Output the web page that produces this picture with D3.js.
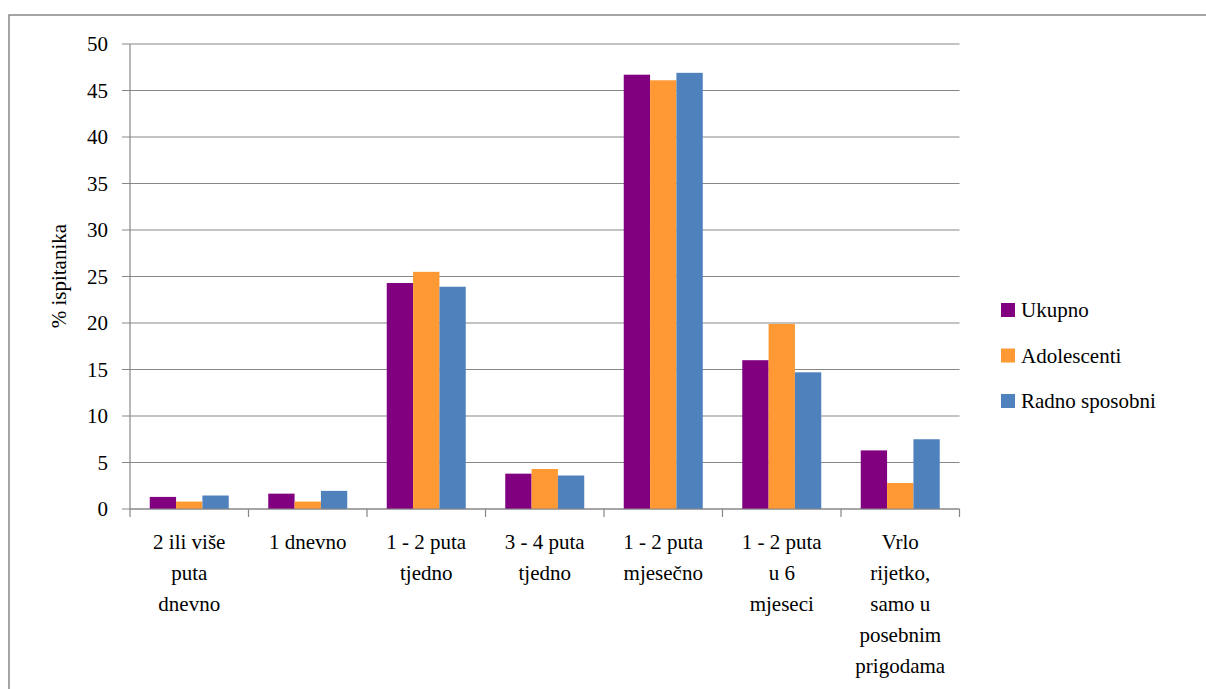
<!DOCTYPE html>
<html lang="hr"><head><meta charset="utf-8">
<script src="https://cdn.jsdelivr.net/npm/d3@7"></script>
</head><body style="margin:0">
<div id="wrap" style="position:relative;width:1206px;height:689px;overflow:hidden;font-family:'Liberation Serif','Times New Roman',serif;font-size:21px;color:#000;">
<svg id="c" width="1206" height="689" style="position:absolute;left:0;top:0"></svg>
</div>
<script>
const categories = [
  ["2 ili više","puta","dnevno"],
  ["1 dnevno"],
  ["1 - 2 puta","tjedno"],
  ["3 - 4 puta","tjedno"],
  ["1 - 2 puta","mjesečno"],
  ["1 - 2 puta","u 6","mjeseci"],
  ["Vrlo","rijetko,","samo u","posebnim","prigodama"]
];
const seriesNames = ["Ukupno","Adolescenti","Radno sposobni"];
const ukupno = [1.3, 1.65, 24.3, 3.8, 46.7, 16.0, 6.3];
const adolescenti = [0.8, 0.8, 25.5, 4.3, 46.1, 19.9, 2.8];
const radnoSposobni = [1.45, 1.95, 23.9, 3.6, 46.9, 14.7, 7.5];
const yTicks = [0,5,10,15,20,25,30,35,40,45,50];
const yTitle = "% ispitanika";
const colors = ["#800080","#FF9933","#4F81BD"];

const series = [ukupno, adolescenti, radnoSposobni];
const wrap = d3.select("#wrap");
const svg = d3.select("#c");

// outer border
svg.append("rect").attr("x",9).attr("y",15).attr("width",1300).attr("height",800)
  .attr("fill","none").attr("stroke","#878787").attr("stroke-width",1.5);

const L=130, R=959.5, T=44, B=509;
const idx = d3.range(categories.length);
const x = d3.scaleBand().domain(idx).range([L,R]).paddingInner(0).paddingOuter(0);
const y = d3.scaleLinear().domain([0,50]).range([B,T]);
const inner = d3.scaleBand().domain(d3.range(series.length)).range([0,x.bandwidth()]).paddingOuter(0.75).paddingInner(0);

// gridlines
svg.append("g").selectAll("line").data(yTicks).join("line")
  .attr("x1",L-8).attr("x2",R).attr("y1",d=>y(d)).attr("y2",d=>y(d))
  .attr("stroke","#878787").attr("stroke-width",1.2);

// y axis line
svg.append("line").attr("x1",L).attr("x2",L).attr("y1",T).attr("y2",B)
  .attr("stroke","#878787").attr("stroke-width",1.2);

// bars
series.forEach((s,si)=>{
  svg.append("g").selectAll("rect").data(s).join("rect")
    .attr("x",(d,i)=>x(i)+inner(si)).attr("width",inner.bandwidth())
    .attr("y",d=>y(d)).attr("height",d=>B-y(d)).attr("fill",colors[si]);
});

// x axis
svg.append("line").attr("x1",L).attr("x2",R).attr("y1",B).attr("y2",B)
  .attr("stroke","#878787").attr("stroke-width",1.2);
const xt = idx.map(i=>x(i)).concat([R]);
svg.append("g").selectAll("line").data(xt).join("line")
  .attr("x1",d=>d).attr("x2",d=>d).attr("y1",B).attr("y2",B+8)
  .attr("stroke","#878787").attr("stroke-width",1.2);

// legend swatches
svg.append("g").selectAll("rect").data(seriesNames).join("rect")
  .attr("x",1001).attr("y",(d,i)=>303+i*45.5).attr("width",14).attr("height",14)
  .attr("fill",(d,i)=>colors[i]);

// ---- text as positioned HTML (baseline offset for 24px line-height ≈ 19.1px)
const BL = 19.1;
function box(sel){ return sel.style("position","absolute").style("white-space","nowrap").style("line-height","24px"); }

// y tick labels
box(wrap.selectAll("div.yt").data(yTicks).join("div").attr("class","yt"))
  .style("right",(1206-(L-22))+"px").style("top",d=>(y(d)+7.35-BL)+"px")
  .style("text-align","right").text(d=>d);

// category labels
wrap.selectAll("div.cat").data(categories).join("div").attr("class","cat")
  .style("position","absolute").style("white-space","nowrap")
  .style("left",(d,i)=>x(i)+"px").style("width",x.bandwidth()+"px")
  .style("text-align","center").style("line-height","30.9px")
  .style("top",(549.5-(3.85+18.7))+"px")
  .html(d=>d.join("<br>"));

// y title
box(wrap.append("div").attr("class","yt-title"))
  .style("left",(66-100)+"px").style("top",((T+B)/2-BL)+"px").style("width","200px")
  .style("text-align","center").style("transform-origin",`100px ${BL}px`)
  .style("transform","rotate(-90deg)").text(yTitle);

// legend labels
box(wrap.selectAll("div.lg").data(seriesNames).join("div").attr("class","lg"))
  .style("left","1021px").style("top",(d,i)=>(303+i*45.5+7+7.35-BL)+"px").text(d=>d);
</script>
</body></html>
